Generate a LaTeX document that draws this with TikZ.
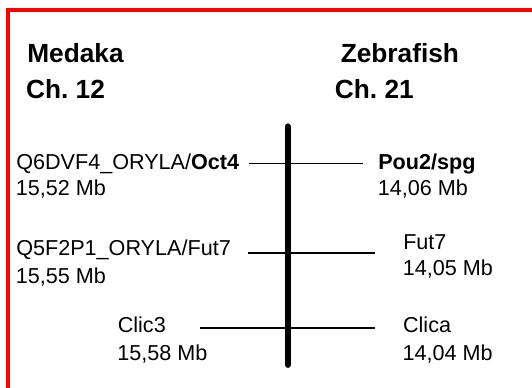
\documentclass[tikz,border=0pt]{standalone}
\usepackage{fontspec}
\setmainfont{Liberation Sans}
\usepackage{tikz}
\frenchspacing

\tikzset{
  lbl/.style={anchor=base west, inner sep=0pt, font=\fontsize{16.2}{19}\selectfont},
  head/.style={anchor=base west, inner sep=0pt, font=\fontsize{19.7}{23}\selectfont\bfseries},
  link/.style={line width=1.1pt},
  chrom/.style={line width=4.7pt, line cap=round}
}

\begin{document}
\begin{tikzpicture}[x=0.75pt, y=-0.75pt]
                    \useasboundingbox (0,0) rectangle (532,388);
                    \draw[red, line width=2.8pt] (8,388) -- (8,10.3) -- (532,10.3);

                    \node[head] (medaka) at (27,62.1) {Medaka};
                    \node[head] (mchr) at (25.8,98.4) {Ch. 12};
                    \node[head] (zebrafish) at (340.5,62.1) {Zebrafish};
                    \node[head] (zchr) at (334.7,98.4) {Ch. 21};

                    \node[lbl] (oct4) at (16,170) {Q6DVF4\_ORYLA/\textbf{Oct4}};
                    \node[lbl] (oct4pos) at (15.5,195.2) {15,52 Mb};
                    \node[lbl] (mfut7) at (16,255.7) {Q5F2P1\_ORYLA/Fut7};
                    \node[lbl] (mfut7pos) at (15.5,284) {15,55 Mb};
                    \node[lbl] (clic3) at (117.5,332.3) {Clic3};
                    \node[lbl] (clic3pos) at (117,360) {15,58 Mb};

                    \node[lbl] (pou2) at (378,170) {\textbf{Pou2/spg}};
                    \node[lbl] (pou2pos) at (377.5,195.2) {14,06 Mb};
                    \node[lbl] (zfut7) at (403,250) {Fut7};
                    \node[lbl] (zfut7pos) at (402.5,275.5) {14,05 Mb};
                    \node[lbl] (clica) at (402.8,332.3) {Clica};
                    \node[lbl] (clicapos) at (402.3,360) {14,04 Mb};

                    \coordinate (chr-top) at (287.8,126.5);
                    \coordinate (chr-bot) at (287.8,364.8);
                    \coordinate (oct4-l) at (249,163.6);
                    \coordinate (oct4-r) at (363,163.6);
                    \coordinate (fut7-l) at (248,252.8);
                    \coordinate (fut7-r) at (375,252.8);
                    \coordinate (clic-l) at (199.5,327.9);
                    \coordinate (clic-r) at (375,327.9);

                    \draw[link] (oct4-l) -- (oct4-r);
                    \draw[link] (fut7-l) -- (fut7-r);
                    \draw[link] (clic-l) -- (clic-r);
                    \draw[chrom] (chr-top) -- (chr-bot);
                \end{tikzpicture}
\end{document}
